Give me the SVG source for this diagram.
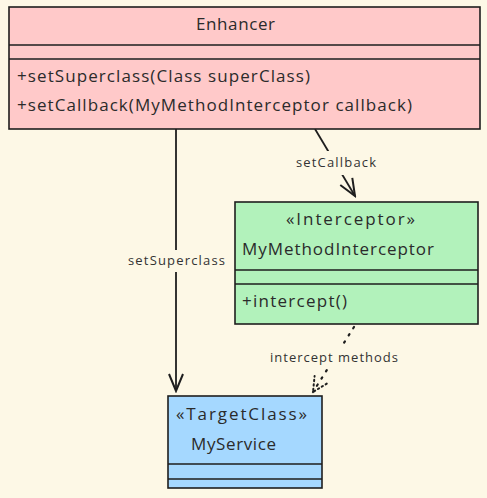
<svg xmlns="http://www.w3.org/2000/svg" width="487" height="498" viewBox="0 0 487 498">
<style>
.box{stroke:#1e1e1e;stroke-width:1.6}
.div{stroke:#1e1e1e;stroke-width:1.4;fill:none}
.t{font-family:"Open Sans","Liberation Sans",sans-serif;font-size:17px;fill:#2b2b2b;dominant-baseline:central}
.l{font-family:"Open Sans","Liberation Sans",sans-serif;font-size:13px;fill:#333;dominant-baseline:central}
.edge{stroke:#1e1e1e;stroke-width:1.8;fill:none}
.dot{stroke:#1e1e1e;stroke-width:2.2;fill:none;stroke-dasharray:1.5 7;stroke-linecap:round}
.lbg{fill:#fdf8e6}
</style>
<defs>
<marker id="open" viewBox="0 0 20 20" refX="18" refY="10" markerWidth="20" markerHeight="20" markerUnits="userSpaceOnUse" orient="auto">
<path d="M1,3 L18,10 L1,17" fill="none" stroke="#1e1e1e" stroke-width="2"/>
</marker>
<marker id="openDot" viewBox="0 0 20 20" refX="18" refY="10" markerWidth="18" markerHeight="18" markerUnits="userSpaceOnUse" orient="auto">
<path d="M2,2 L18,10 L2,18" fill="none" stroke="#1e1e1e" stroke-width="2.2" stroke-dasharray="1.5 3.5" stroke-linecap="round"/>
</marker>
</defs>
<rect width="487" height="498" fill="#fdf8e6"/>
<g id="connectors">
<path class="edge" d="M176,129 L176,391" marker-end="url(#open)"/>
<rect class="lbg" x="125" y="250" width="103" height="22"/>
<text class="l" x="176.5" y="260" text-anchor="middle" textLength="97">setSuperclass</text>
<path class="edge" d="M315,129 L355,196" marker-end="url(#open)"/>
<rect class="lbg" x="293" y="151" width="86" height="24"/>
<text class="l" x="336" y="162" text-anchor="middle" textLength="80">setCallback</text>
<path class="dot" d="M354,327 L313,392" marker-end="url(#openDot)"/>
<rect class="lbg" x="266" y="347" width="136" height="22"/>
<text class="l" x="334" y="357" text-anchor="middle" textLength="128">intercept methods</text>
</g>
<g id="Enhancer">
<rect class="box" x="9" y="7" width="471" height="122" fill="#ffc9c9"/>
<path class="div" d="M9,45 H480 M9,59 H480"/>
<text class="t" x="235.5" y="23" text-anchor="middle" textLength="79">Enhancer</text>
<text class="t" x="17" y="75" textLength="293">+setSuperclass(Class superClass)</text>
<text class="t" x="17" y="104" textLength="395">+setCallback(MyMethodInterceptor callback)</text>
</g>
<g id="MyMethodInterceptor">
<rect class="box" x="235" y="202" width="243" height="122" fill="#b2f2bb"/>
<path class="div" d="M235,270 H478 M235,284 H478"/>
<text class="t" x="350.5" y="218" text-anchor="middle" textLength="129">«Interceptor»</text>
<text class="t" x="242" y="248" textLength="192">MyMethodInterceptor</text>
<text class="t" x="242" y="300" textLength="105">+intercept()</text>
</g>
<g id="MyService">
<rect class="box" x="168" y="396" width="154" height="92" fill="#a5d8ff"/>
<path class="div" d="M168,464 H322 M168,479 H322"/>
<text class="t" x="176" y="413" textLength="131">«TargetClass»</text>
<text class="t" x="191" y="443" textLength="85">MyService</text>
</g>
</svg>
